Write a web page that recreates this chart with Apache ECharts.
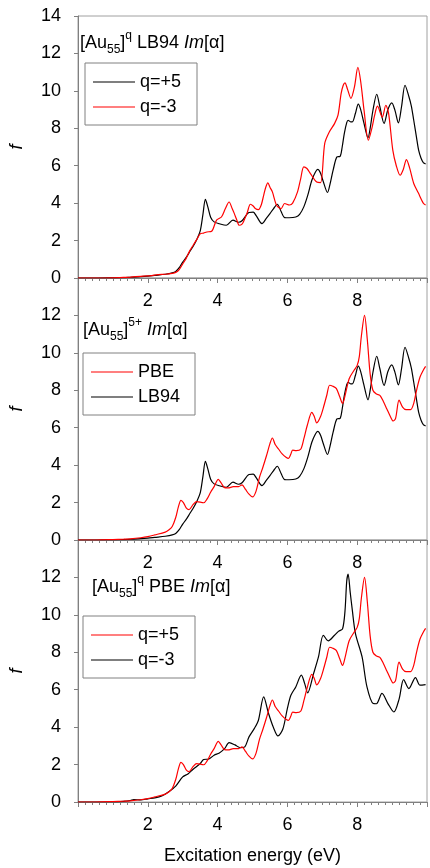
<!DOCTYPE html>
<html>
<head>
<meta charset="utf-8">
<script src="https://cdn.jsdelivr.net/npm/echarts@6/dist/echarts.min.js"></script>
<style>
  html, body { margin: 0; padding: 0; background: #fff; }
  #chart { width: 430px; height: 868px; }
</style>
</head>
<body>
<div id="chart"></div>
<script>
// LB94, q=+5 (black in panels 1 and 2)
const lb94P5X = [0, 0.5, 1.0, 1.3, 1.5, 1.8, 2.0, 2.2, 2.5, 2.7, 2.8, 2.9, 3.0, 3.1, 3.2, 3.3, 3.4, 3.5, 3.58, 3.65, 3.72, 3.8, 3.9, 4.05, 4.25, 4.44, 4.6, 4.7, 4.9, 5.02, 5.1, 5.27, 5.4, 5.5, 5.6, 5.71, 5.82, 5.92, 6.05, 6.24, 6.35, 6.47, 6.58, 6.7, 6.8, 6.87, 6.95, 7.02, 7.15, 7.22, 7.31, 7.42, 7.51, 7.57, 7.63, 7.7, 7.74, 7.8, 7.86, 7.95, 8.03, 8.1, 8.19, 8.31, 8.38, 8.45, 8.56, 8.65, 8.77, 8.88, 8.99, 9.08, 9.18, 9.27, 9.37, 9.48, 9.55, 9.62, 9.7, 9.76, 9.83, 9.9, 9.96]
const lb94P5Y = [0, 0, 0.01, 0.02, 0.04, 0.07, 0.1, 0.14, 0.2, 0.27, 0.35, 0.55, 0.85, 1.1, 1.4, 1.7, 2.05, 2.5, 3.4, 4.2, 3.8, 3.25, 3.0, 2.9, 2.82, 3.09, 2.98, 3.06, 3.5, 3.52, 3.35, 2.91, 3.2, 3.44, 3.7, 3.94, 3.55, 3.23, 3.22, 3.26, 3.4, 3.8, 4.4, 5.22, 5.65, 5.8, 5.6, 5.2, 4.57, 5.0, 5.76, 6.47, 6.5, 7.0, 7.72, 8.3, 8.43, 8.35, 8.34, 8.8, 9.29, 9.0, 8.3, 7.49, 8.1, 8.95, 9.82, 9.15, 8.26, 9.0, 9.36, 8.97, 8.29, 9.15, 10.3, 9.7, 9.2, 8.43, 7.5, 6.83, 6.4, 6.15, 6.1]

// LB94, q=-3 (red in panel 1)
const lb94M3X = [0, 0.5, 1.0, 1.3, 1.5, 1.8, 2.0, 2.3, 2.5, 2.7, 2.8, 2.9, 3.0, 3.1, 3.2, 3.3, 3.4, 3.51, 3.6, 3.69, 3.83, 3.97, 4.11, 4.22, 4.33, 4.42, 4.48, 4.55, 4.62, 4.7, 4.76, 4.85, 4.94, 5.02, 5.08, 5.17, 5.25, 5.32, 5.38, 5.44, 5.5, 5.57, 5.69, 5.82, 5.92, 6.06, 6.15, 6.29, 6.38, 6.47, 6.56, 6.66, 6.84, 6.95, 7.07, 7.2, 7.35, 7.45, 7.54, 7.6, 7.65, 7.72, 7.82, 7.92, 8.02, 8.1, 8.2, 8.32, 8.42, 8.5, 8.58, 8.72, 8.82, 8.9, 9.02, 9.12, 9.23, 9.32, 9.41, 9.5, 9.62, 9.75, 9.9, 9.96]
const lb94M3Y = [0, 0, 0.01, 0.03, 0.05, 0.09, 0.11, 0.18, 0.2, 0.25, 0.3, 0.45, 0.75, 1.05, 1.45, 1.75, 2.05, 2.37, 2.4, 2.46, 2.5, 3.09, 3.26, 3.7, 4.06, 3.7, 3.44, 3.1, 2.82, 2.88, 3.09, 3.5, 3.94, 3.85, 3.71, 3.65, 3.9, 4.42, 4.85, 5.08, 4.85, 4.6, 3.89, 3.71, 3.98, 3.9, 4.0, 4.6, 5.3, 5.94, 5.85, 5.58, 5.13, 5.1, 7.19, 7.8, 8.25, 8.7, 9.86, 10.3, 10.43, 10.1, 9.6, 10.2, 11.25, 10.5, 8.9, 7.36, 8.0, 8.7, 9.18, 8.6, 9.23, 8.8, 6.83, 6.0, 5.49, 5.8, 6.33, 5.9, 5.05, 4.55, 3.98, 3.9]

// PBE, q=+5 (red in panels 2 and 3)
const pbeP5X = [0, 0.5, 1.0, 1.3, 1.5, 1.8, 2.0, 2.2, 2.5, 2.6, 2.7, 2.8, 2.88, 2.95, 3.02, 3.1, 3.18, 3.3, 3.4, 3.6, 3.7, 3.8, 3.9, 4.02, 4.1, 4.2, 4.3, 4.45, 4.6, 4.7, 4.8, 4.9, 5.0, 5.1, 5.2, 5.3, 5.4, 5.5, 5.57, 5.65, 5.75, 5.85, 5.96, 6.03, 6.1, 6.15, 6.25, 6.38, 6.47, 6.57, 6.7, 6.77, 6.84, 6.95, 7.05, 7.13, 7.21, 7.3, 7.4, 7.5, 7.58, 7.65, 7.77, 7.91, 8.0, 8.06, 8.12, 8.21, 8.29, 8.37, 8.45, 8.55, 8.65, 8.75, 8.85, 8.95, 9.03, 9.1, 9.2, 9.3, 9.4, 9.53, 9.62, 9.7, 9.8, 9.9, 9.96]
const pbeP5Y = [0, 0, 0.02, 0.04, 0.06, 0.12, 0.18, 0.27, 0.42, 0.53, 0.72, 1.2, 1.8, 2.12, 2.0, 1.72, 1.62, 1.9, 2.05, 1.99, 2.2, 2.55, 2.85, 3.24, 3.05, 2.8, 2.78, 2.85, 2.85, 2.95, 2.7, 2.45, 2.3, 2.6, 3.35, 3.9, 4.5, 5.15, 5.45, 5.1, 4.85, 4.6, 4.42, 4.36, 4.6, 4.8, 4.78, 4.85, 5.4, 6.13, 6.82, 6.6, 6.26, 6.6, 7.2, 7.75, 8.27, 8.22, 8.1, 7.65, 7.3, 7.7, 8.62, 9.07, 9.33, 9.8, 10.9, 12.0, 10.7, 8.89, 8.0, 7.8, 7.73, 7.4, 7.0, 6.6, 6.36, 6.5, 7.47, 7.1, 6.97, 6.97, 7.3, 8.0, 8.71, 9.1, 9.28]

// PBE, q=-3 (black in panel 3)
const pbeM3X = [0, 0.5, 1.0, 1.3, 1.5, 1.6, 1.8, 2.0, 2.2, 2.4, 2.6, 2.8, 3.0, 3.15, 3.3, 3.5, 3.6, 3.75, 3.9, 4.05, 4.2, 4.33, 4.5, 4.65, 4.78, 4.9, 5.05, 5.17, 5.32, 5.46, 5.6, 5.73, 5.87, 6.0, 6.1, 6.24, 6.4, 6.5, 6.58, 6.75, 6.89, 7.03, 7.17, 7.35, 7.47, 7.58, 7.65, 7.7, 7.74, 7.8, 7.86, 7.95, 8.14, 8.28, 8.46, 8.55, 8.71, 8.88, 9.05, 9.2, 9.33, 9.48, 9.67, 9.8, 9.96]
const pbeM3Y = [0, 0, 0, 0.03, 0.08, 0.13, 0.11, 0.17, 0.22, 0.32, 0.55, 0.85, 1.34, 1.5, 1.75, 2.05, 2.27, 2.3, 2.5, 2.62, 2.85, 3.17, 3.05, 2.9, 2.95, 3.48, 3.92, 4.37, 5.62, 4.73, 3.98, 3.53, 3.9, 5.0, 5.7, 6.15, 6.78, 6.3, 5.83, 6.86, 7.75, 8.91, 8.61, 8.91, 9.13, 9.25, 10.2, 11.8, 12.18, 11.2, 10.25, 9.0, 7.75, 6.15, 5.26, 5.25, 5.8, 5.26, 4.81, 5.5, 6.54, 6.06, 6.65, 6.24, 6.27]

const xTicks = [2, 4, 6, 8]
const panelTops = [16, 278, 540]

const FONT = 'Liberation Sans, Arial, sans-serif'
const AXIS = '#808080'
const RED = '#ff0000'
const BLACK = '#000000'

const zip = (xs, ys) => xs.map((x, i) => [x, ys[i]])

const chart = echarts.init(document.getElementById('chart'))

const grids = panelTops.map(t => ({
  left: 71, right: 1, top: t, height: 262,
  show: true, borderColor: '#a0a0a0', borderWidth: 1, backgroundColor: 'transparent'
}))

const xAxes = [0, 1, 2].map(i => ({
  type: 'value', gridIndex: i, min: 0, max: 10, interval: 2,
  name: i === 2 ? 'Excitation energy (eV)' : '',
  nameLocation: 'middle', nameGap: 45,
  nameTextStyle: { fontFamily: FONT, fontSize: 18, color: '#000' },
  axisLine: { onZero: false, lineStyle: { color: AXIS, width: 1 } },
  axisTick: { length: 5, lineStyle: { color: AXIS } },
  minorTick: { show: true, splitNumber: 10, length: 3, lineStyle: { color: AXIS } },
  splitLine: { show: false },
  axisLabel: {
    margin: 14, fontFamily: FONT, fontSize: 18, color: '#000',
    formatter: v => xTicks.includes(v) ? String(v) : ''
  }
}))

const yAxes = [0, 1, 2].map(i => ({
  type: 'value', gridIndex: i, min: 0, max: 14, interval: 2,
  name: 'f', nameLocation: 'middle', nameGap: 52, nameRotate: 90,
  nameTextStyle: { fontFamily: FONT, fontSize: 18, fontStyle: 'italic', color: '#000' },
  axisLine: { onZero: false, lineStyle: { color: AXIS, width: 1 } },
  axisTick: { length: 4, lineStyle: { color: AXIS } },
  splitLine: { show: false },
  axisLabel: {
    margin: 17, fontFamily: FONT, fontSize: 18, color: '#000',
    showMaxLabel: i === 0
  }
}))

const line = (name, idx, xs, ys, color) => ({
  name, type: 'line', xAxisIndex: idx, yAxisIndex: idx,
  data: zip(xs, ys), showSymbol: false, symbol: 'none',
  smooth: 0.3, lineStyle: { width: 1.2, color }, itemStyle: { color },
  silent: true, animation: false
})

const legend = (top, left, names) => ({
  orient: 'vertical', top, left, data: names,
  selectedMode: false, icon: 'rect', itemWidth: 42, itemHeight: 1, itemGap: 7,
  padding: [10, 9, 9, 8],
  borderColor: '#808080', borderWidth: 1, backgroundColor: '#fff',
  formatter: n => n.split('|')[0],
  textStyle: { fontFamily: FONT, fontSize: 18, lineHeight: 18, color: '#000', width: 48 }
})

const rich = {
  n: { fontFamily: FONT, fontSize: 18, color: '#000', lineHeight: 26 },
  i: { fontFamily: FONT, fontSize: 18, color: '#000', fontStyle: 'italic', lineHeight: 26 },
  sub: { fontFamily: FONT, fontSize: 12, color: '#000', lineHeight: 12, verticalAlign: 'bottom' },
  sup: { fontFamily: FONT, fontSize: 12, color: '#000', lineHeight: 12, verticalAlign: 'top' }
}

const label = (x, y, text) => ({
  type: 'text', x, y,
  style: { text, rich, verticalAlign: 'middle', align: 'left' }
})

chart.setOption({
  animation: false,
  grid: grids,
  xAxis: xAxes,
  yAxis: yAxes,
  legend: [
    legend(63, 85, ['q=+5|a', 'q=-3|a']),
    legend(353, 83, ['PBE|b', 'LB94|b']),
    legend(616, 83, ['q=+5|c', 'q=-3|c'])
  ],
  series: [
    line('q=+5|a', 0, lb94P5X, lb94P5Y, BLACK),
    line('q=-3|a', 0, lb94M3X, lb94M3Y, RED),
    line('LB94|b', 1, lb94P5X, lb94P5Y, BLACK),
    line('PBE|b', 1, pbeP5X, pbeP5Y, RED),
    line('q=-3|c', 2, pbeM3X, pbeM3Y, BLACK),
    line('q=+5|c', 2, pbeP5X, pbeP5Y, RED)
  ],
  graphic: [
    label(80, 43, '{n|[Au}{sub|55}{n|]}{sup|q}{n| LB94 }{i|Im}{n|[α]}'),
    label(83, 330, '{n|[Au}{sub|55}{n|]}{sup|5+}{n| }{i|Im}{n|[α]}'),
    label(92, 587, '{n|[Au}{sub|55}{n|]}{sup|q}{n| PBE }{i|Im}{n|[α]}')
  ]
})
</script>
</body>
</html>
